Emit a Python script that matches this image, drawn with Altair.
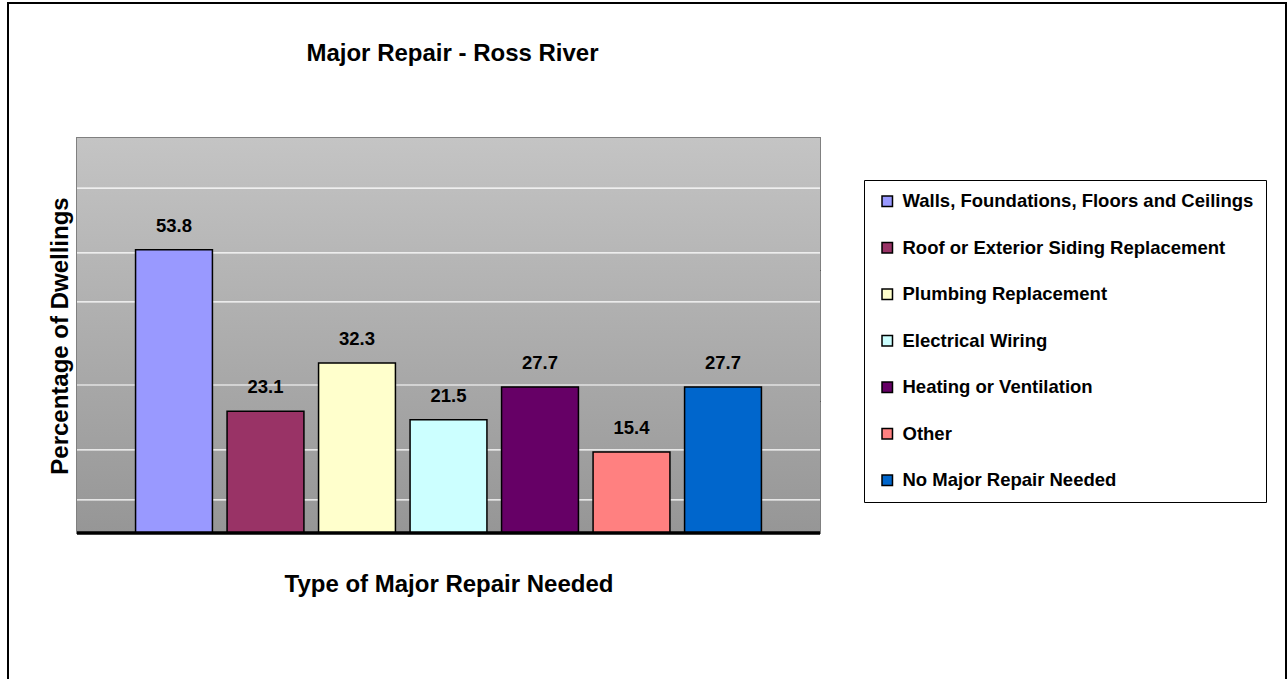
import altair as alt
import pandas as pd

categories = [
    "Walls, Foundations, Floors and Ceilings",
    "Roof or Exterior Siding Replacement",
    "Plumbing Replacement",
    "Electrical Wiring",
    "Heating or Ventilation",
    "Other",
    "No Major Repair Needed",
]
values = [53.8, 23.1, 32.3, 21.5, 27.7, 15.4, 27.7]
colors = ["#9999FF", "#993366", "#FFFFCC", "#CCFFFF", "#660066", "#FF8080", "#0066CC"]
dark_grid = [25, 50]
light_grid = [6.3, 15.8, 28.1, 43.9, 53.2, 65.5]
y_max = 75

W, H = 743, 395
FONT = "Liberation Sans"

df = pd.DataFrame({"cat": categories, "val": values, "label": [f"{v:.1f}" for v in values]})
bg_df = pd.DataFrame({"top": [y_max], "bottom": [0]})
light_df = pd.DataFrame({"y": light_grid})
base_df = pd.DataFrame({"y": [0]})

yscale = alt.Scale(domain=[0, y_max], nice=False)
xscale = alt.Scale(domain=categories, paddingInner=0.16, paddingOuter=0.64)

bg = alt.Chart(bg_df).mark_rect(
    color=alt.LinearGradient(
        gradient="linear", x1=0, y1=0, x2=0, y2=1,
        stops=[alt.GradientStop(offset=0, color="#c4c4c4"),
               alt.GradientStop(offset=1, color="#969696")],
    )
).encode(
    x=alt.value(0), x2=alt.value(W),
    y=alt.Y("top:Q", scale=yscale, axis=alt.Axis(
        title="Percentage of Dwellings", titleFont=FONT, titleFontSize=24,
        titleFontWeight="bold", titleColor="black", titlePadding=5,
        labels=False, ticks=False, domain=False, grid=True,
        gridColor="#333333", gridWidth=1, values=dark_grid)),
    y2="bottom:Q",
)

light = alt.Chart(light_df).mark_rule(color="white", strokeWidth=1.2).encode(
    y=alt.Y("y:Q", scale=yscale), x=alt.value(0), x2=alt.value(W)
)

bars = alt.Chart(df).mark_bar(stroke="black", strokeWidth=1.5, opacity=1).encode(
    x=alt.X("cat:N", scale=xscale, sort=categories, axis=alt.Axis(
        title="Type of Major Repair Needed", titleFont=FONT, titleFontSize=24,
        titleFontWeight="bold", titleColor="black", titlePadding=39,
        labels=False, ticks=False, domain=False)),
    y=alt.Y("val:Q", scale=yscale),
    color=alt.Color("cat:N", scale=alt.Scale(domain=categories, range=colors), legend=alt.Legend(
        title=None, orient="none", legendX=787, legendY=42,
        symbolType="square", symbolSize=110, symbolStrokeColor="black",
        symbolStrokeWidth=1.5, symbolOpacity=1, symbolOffset=2,
        labelFont=FONT, labelFontSize=18.5, labelFontWeight="bold", labelColor="black",
        labelOffset=6, labelLimit=500, rowPadding=27.5, padding=12,
        strokeColor="black", fillColor="white", values=categories)),
)

labels = alt.Chart(df).mark_text(
    font=FONT, fontSize=18.5, fontWeight="bold", color="black", baseline="alphabetic", dy=-18
).encode(x=alt.X("cat:N", scale=xscale, sort=categories), y=alt.Y("val:Q", scale=yscale), text="label:N")

baseline = alt.Chart(base_df).mark_rule(color="black", strokeWidth=3.5).encode(
    y=alt.Y("y:Q", scale=yscale), x=alt.value(0), x2=alt.value(W)
)

frame = alt.Chart(base_df).mark_rect(fill=None, stroke="black", strokeWidth=2).encode(
    x=alt.value(-69), x2=alt.value(1209), y=alt.value(-135), y2=alt.value(600)
)

chart = alt.layer(bg, light, bars, labels, baseline, frame).properties(
    width=W, height=H,
    title=alt.TitleParams("Major Repair - Ross River", font=FONT, fontSize=24,
                          fontWeight="bold", color="black", anchor="middle", offset=0, dy=64, dx=4),
    autosize=alt.AutoSizeParams(type="none"),
    padding={"left": 77, "top": 138, "right": 468, "bottom": 146},
    background="white",
).configure_view(stroke="#808080", strokeWidth=2)

chart.save("out.html", embed_options={"renderer": "svg", "actions": False})
